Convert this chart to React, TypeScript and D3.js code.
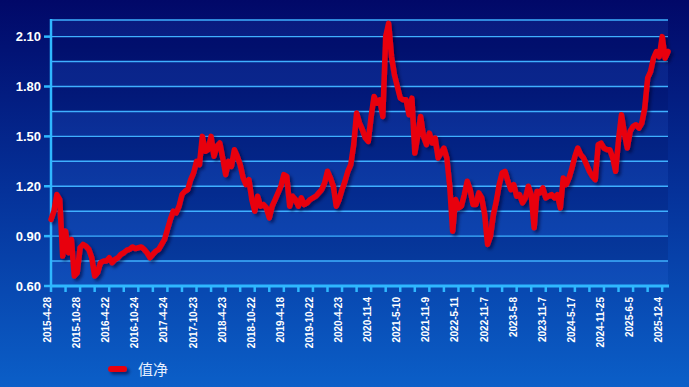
import React from "react";
import * as d3 from "d3";

const labels = [
  "2015-4-28", "2015-10-28", "2016-4-22", "2016-10-24", "2017-4-24", "2017-10-23",
  "2018-4-23", "2018-10-22", "2019-4-18", "2019-10-22", "2020-4-23", "2020-11-4",
  "2021-5-10", "2021-11-9", "2022-5-11", "2022-11-7", "2023-5-8", "2023-11-7",
  "2024-5-17", "2024-11-25", "2025-6-5", "2025-12-4",
];
const labelEvery = 10;

const values = [
  1.00, 1.05, 1.15, 1.12, 0.78, 0.93, 0.80, 0.88, 0.66, 0.68,
  0.83, 0.85, 0.84, 0.82, 0.77, 0.66, 0.68, 0.74, 0.75, 0.75,
  0.77, 0.74, 0.76, 0.77, 0.79, 0.80, 0.815, 0.82, 0.835, 0.825,
  0.83, 0.835, 0.82, 0.80, 0.77, 0.79, 0.81, 0.82, 0.85, 0.88,
  0.94, 1.00, 1.05, 1.04, 1.08, 1.15, 1.17, 1.18, 1.24, 1.28,
  1.35, 1.33, 1.50, 1.41, 1.42, 1.50, 1.38, 1.44, 1.46, 1.37,
  1.27, 1.35, 1.32, 1.42, 1.38, 1.33, 1.25, 1.21, 1.24, 1.12,
  1.05, 1.14, 1.08, 1.09, 1.07, 1.01, 1.08, 1.12, 1.16, 1.20,
  1.27, 1.26, 1.08, 1.14, 1.12, 1.08, 1.13, 1.09, 1.10, 1.12,
  1.13, 1.14, 1.16, 1.18, 1.22, 1.29, 1.25, 1.20, 1.08, 1.12,
  1.18, 1.23, 1.29, 1.33, 1.45, 1.64, 1.58, 1.54, 1.49, 1.47,
  1.62, 1.74, 1.70, 1.72, 1.62, 2.10, 2.18, 1.98, 1.87, 1.80,
  1.73, 1.72, 1.72, 1.63, 1.73, 1.40, 1.50, 1.62, 1.50, 1.45,
  1.52, 1.46, 1.49, 1.37, 1.40, 1.43, 1.37, 1.20, 0.93, 1.12,
  1.07, 1.08, 1.15, 1.23, 1.18, 1.09, 1.09, 1.16, 1.13, 1.03,
  0.85, 0.90, 1.03, 1.11, 1.21, 1.28, 1.29, 1.23, 1.18, 1.21,
  1.14, 1.15, 1.10, 1.13, 1.20, 1.15, 0.95, 1.17, 1.16, 1.19,
  1.13, 1.14, 1.15, 1.13, 1.15, 1.07, 1.25, 1.21, 1.25, 1.31,
  1.38, 1.43, 1.39, 1.37, 1.33, 1.29, 1.26, 1.24, 1.45, 1.46,
  1.43, 1.42, 1.42, 1.37, 1.29, 1.48, 1.63, 1.52, 1.43, 1.53,
  1.56, 1.57, 1.55, 1.58, 1.67, 1.85, 1.89, 1.97, 2.01, 1.98,
  2.10, 1.97, 2.01,
];

const yTicks = [0.6, 0.9, 1.2, 1.5, 1.8, 2.1];
const gridValues = [0.75, 0.9, 1.05, 1.2, 1.35, 1.5, 1.65, 1.8, 1.95, 2.1, 2.2];
const bandEdges = [0.6, 0.75, 0.9, 1.05, 1.2, 1.35, 1.5, 1.65, 1.8, 1.95, 2.1, 2.2];
const seriesName = "值净";

const W = 689;
const H = 387;
const L = 51, R = 668, T = 20, B = 286;

export default function App() {
  const x = d3.scaleLinear().domain([0, values.length - 1]).range([L, R]);
  const y = d3.scaleLinear().domain([0.6, 2.2]).range([B, T]);
  const line = d3
    .line<number>()
    .x((_, i) => x(i))
    .y((d) => y(d));

  const tickIdx = d3.range(0, (labels.length - 1) * labelEvery + 1, labelEvery / 2);
  const axisColor = "#2fb8ff";
  const font = "Arial, 'Liberation Sans', sans-serif";

  return (
    <svg
      width={W}
      height={H}
      style={{ position: "absolute", left: 0, top: 0, display: "block" }}
    >
      <defs>
        <linearGradient id="bg" x1="0" y1="0" x2="0" y2="1">
          <stop offset="0%" stopColor="#010868" />
          <stop offset="50%" stopColor="#05329a" />
          <stop offset="100%" stopColor="#0b5fc8" />
        </linearGradient>
        <filter id="shadow" filterUnits="userSpaceOnUse" x="0" y="0" width={W} height={H}>
          <feDropShadow dx="2.5" dy="2.5" stdDeviation="1.5" floodColor="#000030" floodOpacity="0.55" />
        </filter>
      </defs>
      <rect x={0} y={0} width={W} height={H} fill="url(#bg)" />

      {/* alternating bands */}
      {bandEdges.slice(0, -1).map((v, i) => (
        <rect
          key={"band" + i}
          x={L}
          y={y(bandEdges[i + 1])}
          width={R - L}
          height={y(v) - y(bandEdges[i + 1])}
          fill={i % 2 === 0 ? "#4080ff" : "#000040"}
          opacity={i % 2 === 0 ? 0.12 : 0.12}
        />
      ))}

      {/* grid lines */}
      {gridValues.map((v) => (
        <line
          key={"g" + v}
          x1={L}
          x2={R}
          y1={y(v)}
          y2={y(v)}
          stroke="#3fb0ff"
          strokeWidth={1.4}
        />
      ))}

      {/* y axis */}
      <line x1={L} x2={L} y1={T - 1} y2={B + 1} stroke={axisColor} strokeWidth={2.5} />
      {yTicks.map((v) => (
        <g key={"yt" + v}>
          <line x1={L - 7} x2={L} y1={y(v)} y2={y(v)} stroke={axisColor} strokeWidth={2.5} />
          <text
            x={41}
            y={y(v)}
            dy="0.36em"
            textAnchor="end"
            fill="#ffffff"
            fontFamily={font}
            fontWeight="bold"
            fontSize={13}
          >
            {v.toFixed(2)}
          </text>
        </g>
      ))}

      {/* x axis */}
      <line x1={L - 1} x2={R + 1} y1={B} y2={B} stroke={axisColor} strokeWidth={3} />
      {tickIdx.map((i) => (
        <line key={"xt" + i} x1={x(i)} x2={x(i)} y1={B} y2={B + 6} stroke={axisColor} strokeWidth={2.5} />
      ))}
      {labels.map((lab, k) => (
        <text
          key={lab}
          transform={`translate(${x(k * labelEvery)},${297}) rotate(-90)`}
          textAnchor="end"
          fill="#ffffff"
          fontFamily={font}
          fontWeight="bold"
          fontSize={10}
        >
          {lab}
        </text>
      ))}

      {/* series line */}
      <path
        d={line(values) || ""}
        fill="none"
        stroke="#e80010"
        strokeWidth={5.5}
        strokeLinejoin="round"
        strokeLinecap="round"
        filter="url(#shadow)"
      />

      {/* legend */}
      <rect
        x={108}
        y={366}
        width={19}
        height={6}
        rx={3}
        fill="#e80010"
        filter="url(#shadow)"
      />
      <text
        x={138}
        y={370}
        dy="0.36em"
        fill="#e8f0ff"
        fontFamily="'Noto Sans CJK SC', sans-serif"
        fontSize={15}
      >
        {seriesName}
      </text>
    </svg>
  );
}
